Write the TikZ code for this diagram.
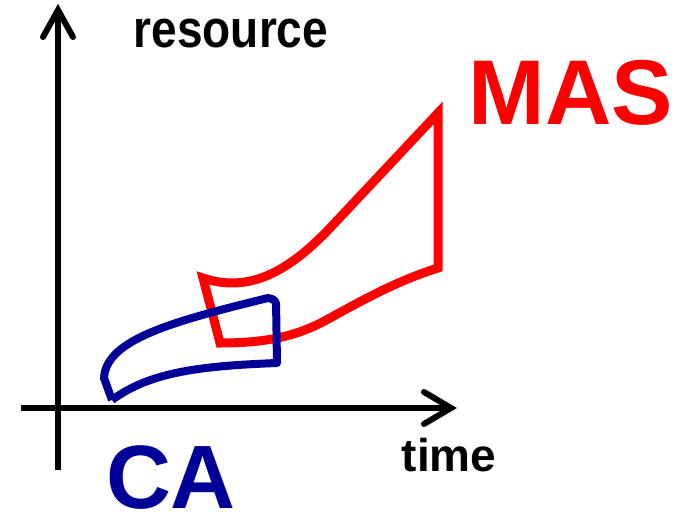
\documentclass[tikz,border=0pt]{standalone}
\usepackage{fontspec}
\setmainfont{Liberation Sans}
\definecolor{masred}{HTML}{FF0000}
\definecolor{cablue}{HTML}{000099}
\begin{document}
\begin{tikzpicture}[x=1pt,y=-1pt,
  axis/.style={line width=6pt,black,line cap=butt},
  barb/.style={line width=6pt,black,line cap=round,line join=miter},
  masline/.style={line width=9pt,masred,line join=miter},
  caline/.style={line width=8pt,cablue,line join=round},
  lbl/.style={inner sep=0pt,anchor=base,font=\bfseries}]
\useasboundingbox (0,0) rectangle (685,519);
% axes
\coordinate (ybot) at (58,470);
\coordinate (ytop) at (58,10);
\coordinate (xleft) at (21,408);
\coordinate (xright) at (451,408);
\draw[axis] (ybot) -- (ytop);
\draw[barb] (43,37) -- (ytop) -- (73,37);
\draw[axis] (xleft) -- (xright);
\draw[barb] (424,392) -- (xright) -- (424,424);
% MAS region
\draw[masline] (203,278) .. controls (250,294) and (290,270) .. (330,228)
  -- (438,113) -- (438,268)
  .. controls (400,280) and (370,296) .. (330,318)
  .. controls (300,335) and (270,343) .. (220,343) -- cycle;
% CA region
\draw[caline] (112,400) -- (104,378) .. controls (106,340) and (170,322) .. (268,298)
  [rounded corners=4pt] -- (276,300) [sharp corners] -- (277,363)
  .. controls (200,366) and (150,372) .. (112,400);
% labels
\node[lbl,font=\bfseries\fontsize{46}{46}\selectfont] (res) at (231,48) {\scalebox{1}[1.15]{resource}};
\node[lbl,font=\bfseries\fontsize{46}{46}\selectfont] (time) at (449,471) {time};
\node[lbl,masred,font=\bfseries\fontsize{92}{92}\selectfont] (mas) at (571,124) {MAS};
\node[lbl,cablue,font=\bfseries\fontsize{90}{90}\selectfont] (ca) at (171,508) {CA};
\end{tikzpicture}
\end{document}
